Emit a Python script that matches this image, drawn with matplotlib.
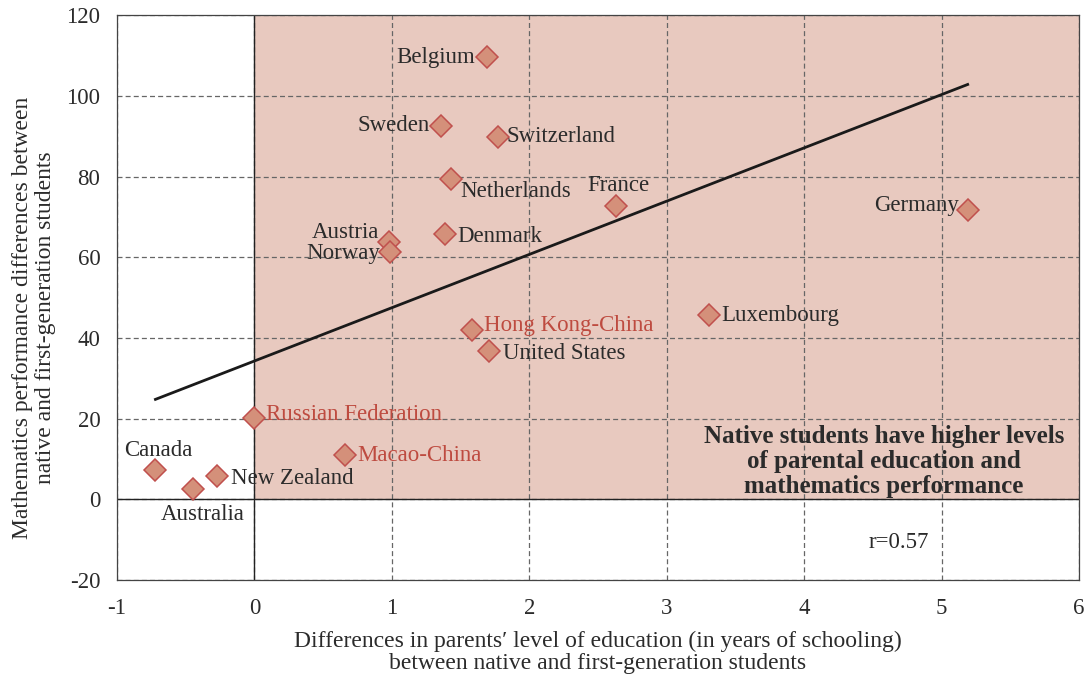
import matplotlib
matplotlib.use("Agg")
import matplotlib.pyplot as plt
import numpy as np

plt.rcParams['font.family'] = ['Liberation Serif', 'DejaVu Serif']

countries = ["Belgium", "Sweden", "Switzerland", "Netherlands", "France", "Germany",
             "Austria", "Norway", "Denmark", "Hong Kong-China", "Luxembourg",
             "United States", "Russian Federation", "Macao-China", "Canada",
             "New Zealand", "Australia"]
parent_edu_diff = [1.69, 1.36, 1.77, 1.43, 2.63, 5.19, 0.98, 0.99, 1.39, 1.58, 3.31,
                   1.71, 0.0, 0.66, -0.72, -0.27, -0.45]
math_diff = [109.5, 92.4, 89.7, 79.5, 72.8, 71.6, 63.9, 61.4, 65.7, 41.9, 45.8,
             36.7, 20.3, 11.1, 7.4, 5.9, 2.5]
partner_economies = ["Hong Kong-China", "Russian Federation", "Macao-China"]
fit_intercept = 34.3
fit_slope = 13.2
r_value = 0.57

x_ticks = [-1, 0, 1, 2, 3, 4, 5, 6]
y_ticks = [-20, 0, 20, 40, 60, 80, 100, 120]

# label offsets in pixels (dx, dy, ha, va)
label_pos = {
    "Belgium": (-12, 0, "right", "center"),
    "Sweden": (-12, 1, "right", "center"),
    "Switzerland": (9, 1, "left", "center"),
    "Netherlands": (9, -13, "left", "center"),
    "France": (3, 20, "center", "center"),
    "Germany": (-9, 5, "right", "center"),
    "Austria": (-10, 9, "right", "center"),
    "Norway": (-10, -2, "right", "center"),
    "Denmark": (12, -2, "left", "center"),
    "Hong Kong-China": (12, 5, "left", "center"),
    "Luxembourg": (12, -1, "left", "center"),
    "United States": (14, -2, "left", "center"),
    "Russian Federation": (12, 3, "left", "center"),
    "Macao-China": (12, -1, "left", "center"),
    "Canada": (3, 19, "center", "center"),
    "New Zealand": (14, -3, "left", "center"),
    "Australia": (10, -25, "center", "center"),
}

fill_col = "#E8C9BF"
marker_face = "#D4907A"
marker_edge = "#C0504D"
red_text = "#BE4B40"
text_col = "#2B2B2B"
fs = 16.5

fig = plt.figure(figsize=(10.91, 6.85), dpi=100)
ax = fig.add_axes([0.1072, 0.153, 0.8818, 0.825])

ax.set_xlim(-1, 6)
ax.set_ylim(-20, 120)
ax.axvspan(0, 6, ymin=20/140, ymax=1, color=fill_col, zorder=0, lw=0)

ax.set_xticks(x_ticks)
ax.set_yticks(y_ticks)
ax.grid(True, ls=(0, (4, 2.5)), color="#666666", lw=0.9, zorder=1)
ax.axhline(0, color="#222222", lw=1.0, zorder=2)
ax.axvline(0, color="#222222", lw=1.0, zorder=2)
for s in ax.spines.values():
    s.set_color("#444444")
    s.set_linewidth(0.9)
ax.tick_params(axis="y", length=0, labelsize=fs, colors=text_col, pad=12)
ax.tick_params(axis="x", length=0, labelsize=fs, colors=text_col, pad=13)
ax.set_xticklabels([str(t) for t in x_ticks])
ax.set_yticklabels([str(t) for t in y_ticks])

xs = np.array([min(parent_edu_diff), max(parent_edu_diff)])
ax.plot(xs, fit_intercept + fit_slope * xs, color="#1a1a1a", lw=2.0, zorder=3)

ax.plot(parent_edu_diff, math_diff, ls="none", marker="D", ms=11.5,
        mfc=marker_face, mec=marker_edge, mew=1.1, zorder=4)

for name, x, y in zip(countries, parent_edu_diff, math_diff):
    dx, dy, ha, va = label_pos[name]
    col = red_text if name in partner_economies else text_col
    ax.annotate(name, (x, y), xytext=(dx * 0.72, dy * 0.72), textcoords="offset points",
                ha=ha, va=va, fontsize=fs, color=col, zorder=5)

ax.text(4.58, 9.4, "Native students have higher levels\nof parental education and\nmathematics performance",
        ha="center", va="center", fontsize=18, fontweight="bold", color=text_col,
        linespacing=1.12, zorder=5)
ax.text(4.69, -10.7, f"r={r_value:.2f}", ha="center", va="center", fontsize=fs,
        color=text_col, zorder=5)

ax.set_xlabel("Differences in parents\u2032 level of education (in years of schooling)\nbetween native and first-generation students",
              fontsize=17, color=text_col, labelpad=8, linespacing=1.12)
ax.set_ylabel("Mathematics performance differences between\nnative and first-generation students",
              fontsize=17, color=text_col, linespacing=1.15)
ax.yaxis.set_label_coords(-0.063, 0.465)

fig.savefig("out.png", dpi=100)
